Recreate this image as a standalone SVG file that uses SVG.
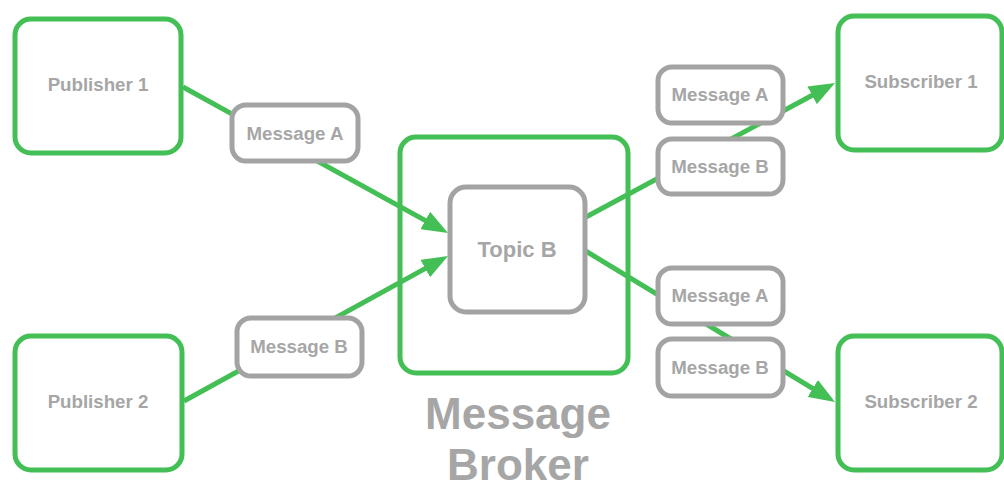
<svg xmlns="http://www.w3.org/2000/svg" width="1004" height="487" viewBox="0 0 1004 487">
<defs>
<style>
.g{fill:#fff;stroke:#43bf55;stroke-width:5}
.m{fill:#fff;stroke:#a3a3a3;stroke-width:5}
.t{font-family:"Liberation Sans",Arial,sans-serif;font-weight:bold;font-size:18.7px;fill:#a6a6a6;text-anchor:middle}
.tb{font-size:22px}
.big{font-family:"Liberation Sans",Arial,sans-serif;font-weight:bold;font-size:44px;fill:#a6a6a6;text-anchor:middle}
.c{stroke:#43bf55;stroke-width:5;fill:none}
</style>
<marker id="ah" viewBox="0 0 26 20" refX="6" refY="10" markerWidth="26" markerHeight="20" markerUnits="userSpaceOnUse" orient="auto">
<path d="M0,0 L26,10 L0,20 z" fill="#43bf55"/>
</marker>
</defs>
<rect width="1004" height="487" fill="#fff"/>
<g id="broker">
<rect class="g" x="400" y="137" width="228" height="236" rx="16"/>
<text class="big" x="518" y="429">Message</text>
<text class="big" x="518" y="480">Broker</text>
</g>
<g id="connectors">
<line class="c" x1="183" y1="87" x2="430.5" y2="223.4" marker-end="url(#ah)"/>
<line class="c" x1="184" y1="401" x2="430.5" y2="265.6" marker-end="url(#ah)"/>
<line class="c" x1="586" y1="217" x2="817.4" y2="92.5" marker-end="url(#ah)"/>
<line class="c" x1="584" y1="250" x2="817.9" y2="391.6" marker-end="url(#ah)"/>
</g>
<g id="publisher1">
<rect class="g" x="15" y="19" width="166" height="134" rx="16"/>
<text class="t" x="98" y="91">Publisher 1</text>
</g>
<g id="publisher2">
<rect class="g" x="15" y="336" width="167" height="134" rx="16"/>
<text class="t" x="98" y="408">Publisher 2</text>
</g>
<g id="msgA-left">
<rect class="m" x="232" y="105" width="126" height="56" rx="14"/>
<text class="t" x="295" y="140">Message A</text>
</g>
<g id="msgB-left">
<rect class="m" x="237" y="318" width="125" height="58" rx="14"/>
<text class="t" x="299" y="353">Message B</text>
</g>
<g id="topicB">
<rect class="m" x="450" y="187" width="135" height="125" rx="16"/>
<text class="t tb" x="517" y="257">Topic B</text>
</g>
<g id="msgA-top">
<rect class="m" x="658" y="67" width="125" height="56" rx="14"/>
<text class="t" x="720" y="101">Message A</text>
</g>
<g id="msgB-top">
<rect class="m" x="658" y="139" width="125" height="55" rx="14"/>
<text class="t" x="720" y="173">Message B</text>
</g>
<g id="msgA-bottom">
<rect class="m" x="658" y="268" width="125" height="56" rx="14"/>
<text class="t" x="720" y="302">Message A</text>
</g>
<g id="msgB-bottom">
<rect class="m" x="658" y="339" width="125" height="57" rx="14"/>
<text class="t" x="720" y="374">Message B</text>
</g>
<g id="subscriber1">
<rect class="g" x="838" y="16" width="164" height="134" rx="16"/>
<text class="t" x="921" y="88">Subscriber 1</text>
</g>
<g id="subscriber2">
<rect class="g" x="838" y="336" width="164" height="134" rx="16"/>
<text class="t" x="921" y="408">Subscriber 2</text>
</g>
</svg>
